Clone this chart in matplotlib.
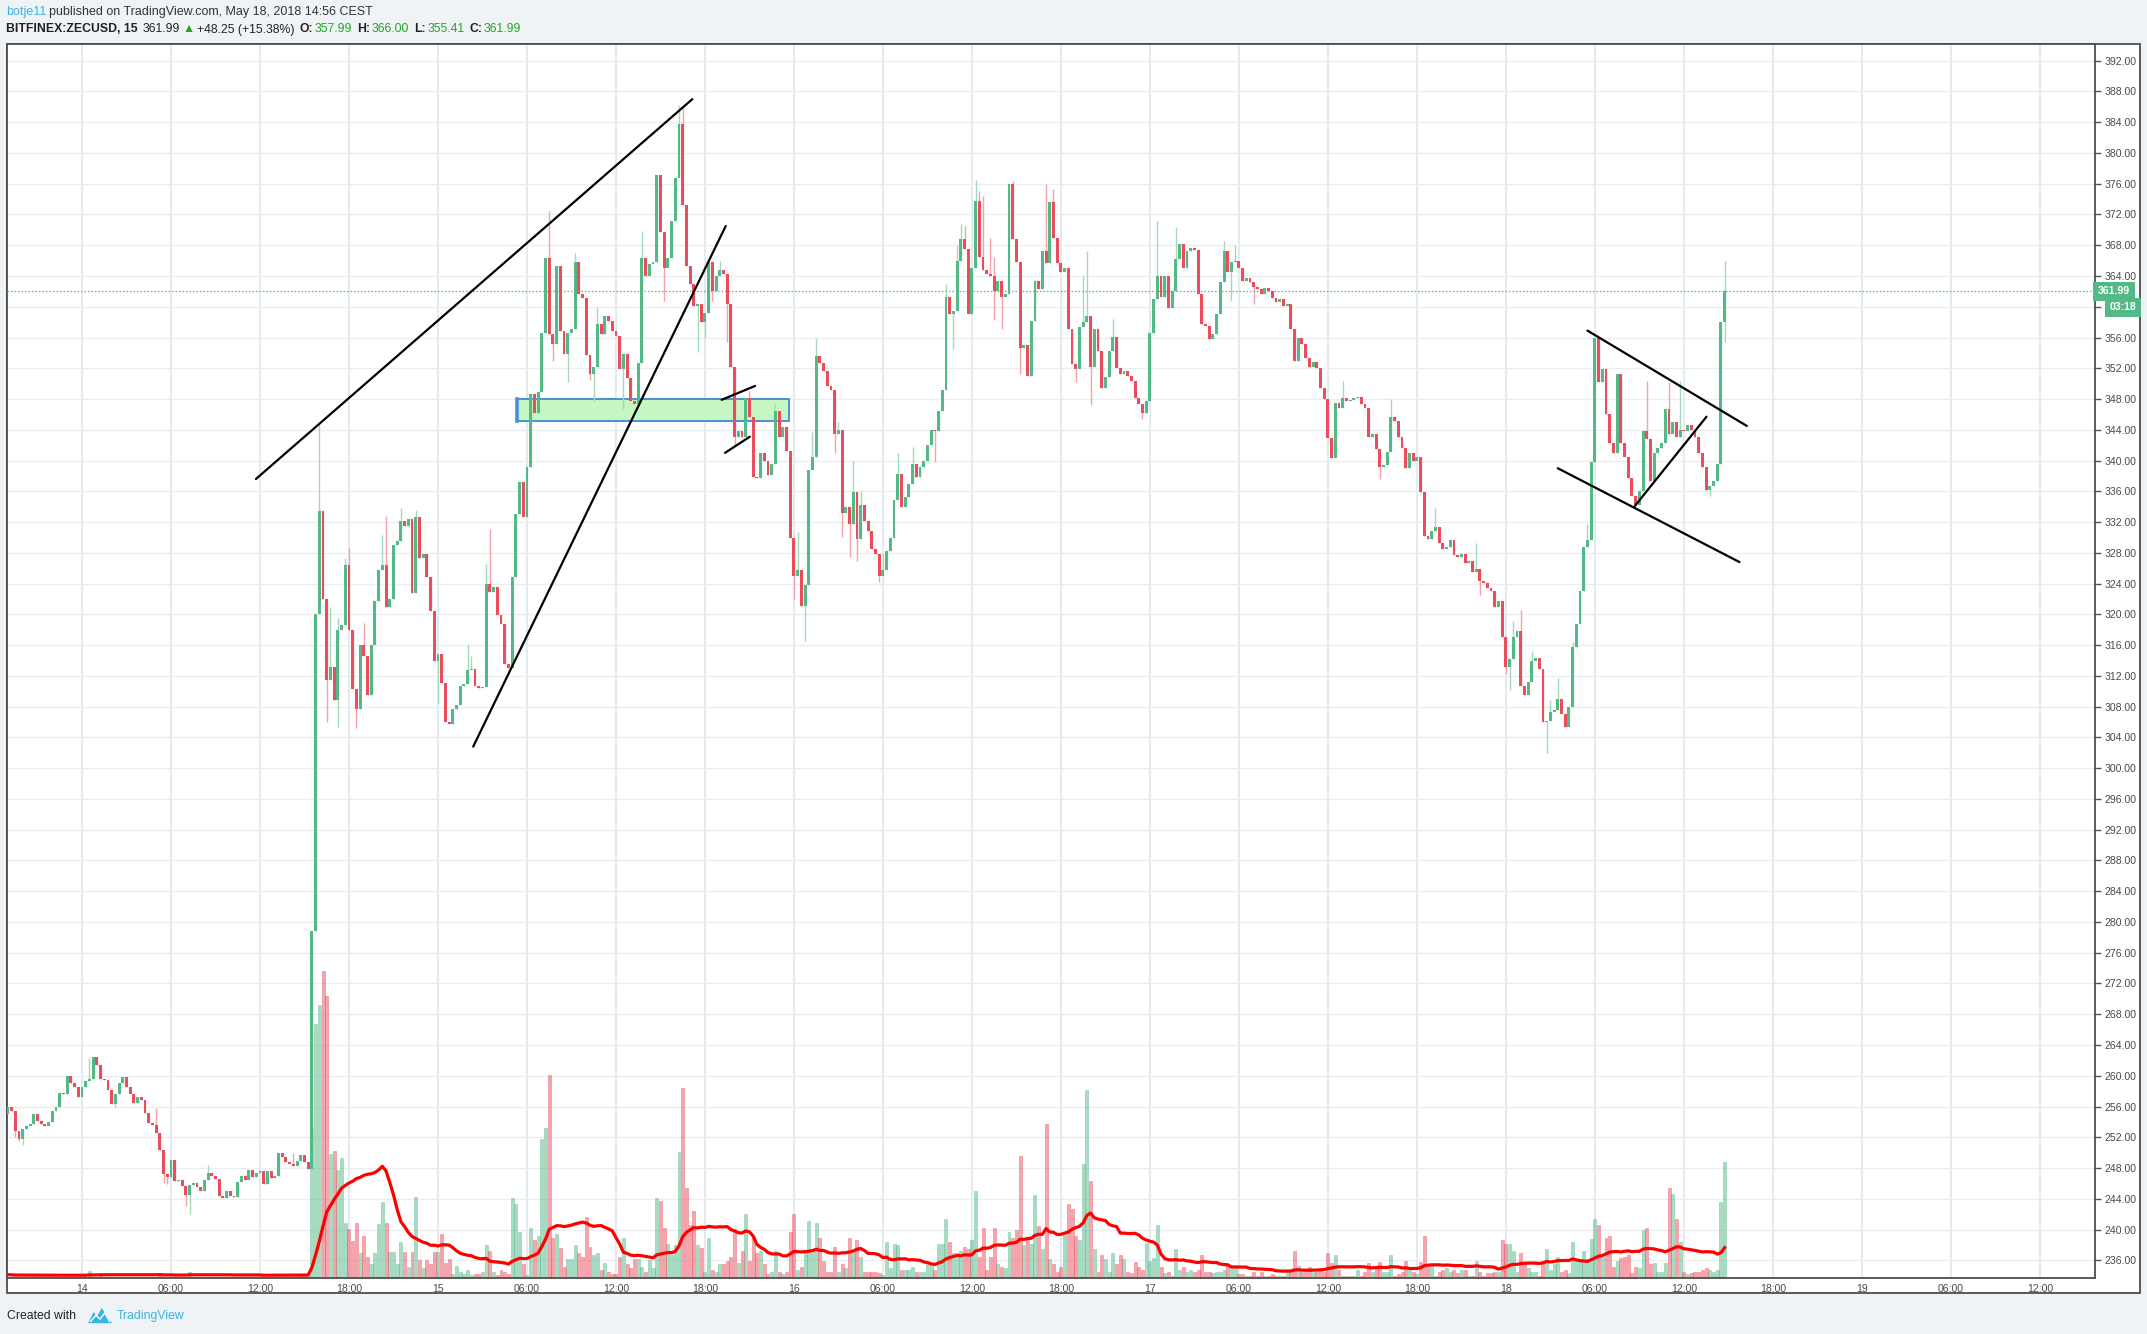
import numpy as np
import pandas as pd
import matplotlib
matplotlib.use("Agg")
import matplotlib.pyplot as plt
from matplotlib.patches import Rectangle, Polygon
from matplotlib.transforms import blended_transform_factory, offset_copy

plt.rcParams['font.family'] = ['Liberation Sans', 'DejaVu Sans']

# ---------------- data (15 min candles, index 0 = May 14 00:00) ----------------
first_index = -20
first_open = 255.0

close_part1 = [256.0, 255.4, 252.8, 251.8, 253.1, 253.5, 253.7, 255.0, 254.1, 253.7,
               253.5, 254.0, 255.4, 255.9, 257.8, 257.6, 260.0, 259.0, 258.6, 257.3,
               258.6, 259.3, 259.6, 262.5, 261.4, 259.6, 259.4, 258.2, 256.3, 257.6,
               259.0, 259.9, 258.6, 257.6, 256.4, 257.3, 256.9, 255.2, 253.8, 253.6,
               252.6, 250.3, 247.2, 246.8, 249.1, 246.3, 246.5, 245.6, 244.5, 245.8,
               246.0, 245.5, 245.0, 246.4, 247.4, 247.0, 246.6, 244.4, 244.1, 245.0,
               244.4, 244.2, 246.2, 247.0, 246.4, 247.8, 246.8, 247.4, 247.6, 245.9,
               247.6, 246.7, 247.0, 249.9, 249.4, 248.8, 248.5, 248.2, 248.9, 249.7,
               248.8, 247.9, 278.8, 320.0, 333.4, 322.0, 311.5, 313.2, 308.9, 318.0,
               318.6, 326.4, 318.0, 310.3, 307.7, 316.0, 314.6, 309.5, 316.0, 321.7,
               325.8, 326.4, 321.0, 322.0, 329.0, 329.6, 332.2, 331.5, 332.4, 322.8,
               332.6, 327.3, 327.8, 324.9, 320.5, 314.0, 314.8, 311.1]
close_part2 = [306.0, 305.8, 307.7, 308.2, 310.7, 311.0, 312.7, 312.9, 310.7, 310.4,
               310.6, 324.0, 322.9, 323.5, 319.9, 318.8, 313.5, 313.0, 324.8, 333.1,
               337.2, 332.7, 339.1, 348.7, 346.2, 348.9, 356.6, 366.3, 356.4, 355.2,
               365.3, 356.8, 353.9, 356.6, 357.1, 365.8, 361.6, 361.2, 353.7, 351.2,
               352.2, 357.8, 356.4, 358.8, 358.2, 356.8, 356.2, 351.9, 353.9, 350.7,
               347.7, 347.3, 352.7, 366.3, 364.0, 365.5, 365.8, 377.1, 369.7, 365.0,
               366.3, 371.1, 376.7, 383.8, 373.2, 365.3, 362.9, 360.1, 360.3, 358.0,
               359.2, 365.8]
close_part3 = [362.0, 364.0, 364.8, 364.2, 360.4, 352.2, 343.1, 343.8, 343.1, 348.2,
               345.6, 337.9, 337.7, 341.0, 340.0, 338.1, 339.5, 346.4, 343.0, 344.3,
               341.3, 329.9, 325.0, 325.8, 321.1, 323.8, 338.8, 340.5, 353.6, 352.7,
               351.7, 349.7, 349.2, 343.5, 344.0, 333.2, 333.9, 331.7, 335.9, 329.8,
               334.2, 332.1, 330.8, 328.5, 327.8, 325.0, 325.8, 328.3, 329.9, 334.9,
               338.2, 333.9, 335.3, 336.9, 339.5, 337.9, 339.2, 340.0, 342.0, 344.0,
               343.9, 346.4, 349.2, 361.3, 359.1, 359.4, 366.0, 368.8, 367.5, 359.1,
               365.0]
close_part4 = [373.8, 366.5, 364.8, 364.3, 364.0, 362.0, 363.4, 361.3, 361.6, 375.9,
               368.8, 365.8, 354.6, 355.0, 351.0, 358.1, 363.3, 362.3, 367.3, 365.7,
               373.6, 369.0, 365.7, 364.5, 365.0, 357.1, 352.5, 351.9, 357.4, 358.0,
               358.8, 352.2, 357.1, 354.3, 349.4, 350.9, 354.3, 356.1, 352.0, 351.2,
               351.6, 351.0, 350.4, 348.2, 347.4, 346.2, 347.7, 356.6, 361.0, 364.0,
               361.3, 364.0, 359.9, 362.0, 366.2, 368.2, 365.0, 367.3, 367.6, 367.4,
               361.7, 357.8, 357.5, 355.8, 356.4, 359.1, 363.2, 367.3, 364.5, 365.8]
close_part5 = [366.0, 365.0, 363.3, 363.8, 363.2, 362.6, 362.3, 361.7, 362.4, 362.0,
               361.2, 360.6, 361.0, 360.1, 360.3, 357.1, 352.9, 355.9, 355.2, 353.4,
               352.2, 352.8, 352.1, 349.4, 348.0, 342.9, 340.3, 347.5, 346.9, 348.2,
               347.8, 347.9, 348.1, 348.3, 347.4, 346.8, 343.0, 343.5, 341.5, 339.1,
               339.4, 341.1, 345.6, 345.2, 343.0, 341.6, 339.0, 341.0, 340.0, 340.5,
               335.9, 330.2, 329.8, 330.9, 331.4, 329.3, 328.5, 328.8, 329.7, 327.7,
               327.4, 327.8, 326.7, 326.9, 325.5, 325.9, 324.3, 324.1, 323.4, 323.0]
close_part6 = [321.0, 321.8, 317.1, 313.2, 314.2, 317.1, 317.8, 310.7, 309.5, 311.2,
               313.9, 314.3, 312.9, 306.0, 306.1, 307.3, 307.5, 309.0, 307.1, 305.3,
               308.0, 315.8, 318.8, 323.0, 328.7, 329.7, 339.8, 355.9, 350.2, 351.9,
               346.0, 342.3, 341.0, 351.2, 342.3, 340.5, 337.7, 335.4, 334.2, 336.0,
               343.8, 342.8, 337.4, 341.0, 341.6, 342.3, 346.7, 343.5, 345.0, 343.1,
               344.0, 343.8, 344.6, 344.0, 343.1, 341.0, 339.1, 336.2, 336.7, 337.4,
               339.5, 357.99, 361.99]

# wick extremes that reach beyond the body (candle index -> price)
upper_wicks = {2: 262.3, 20: 255.8, 34: 248.4, 57: 250.0, 64: 344.7, 67: 320.9, 69: 319.5,
               71: 327.3, 72: 328.6, 76: 318.9, 81: 330.3, 82: 332.8, 86: 333.8, 90: 333.6,
               104: 316.2, 105: 314.6, 109: 326.5, 110: 331.1, 126: 372.4, 133: 367.0,
               139: 360.0, 151: 369.9, 161: 386.2, 162: 385.9,
               172: 366.0, 180: 349.0, 187: 347.5, 193: 330.7, 197: 343.7, 198: 356.0,
               204: 345.0, 208: 340.0, 210: 336.0, 216: 328.0, 220: 341.0, 224: 341.7,
               233: 363.0, 236: 368.0, 237: 370.7, 238: 370.5,
               241: 376.5, 242: 375.0, 243: 374.4, 245: 369.0, 246: 366.5, 251: 376.4,
               260: 375.9, 262: 375.3, 270: 364.0, 271: 367.2, 278: 358.4, 290: 371.1,
               295: 370.4, 308: 368.5, 311: 368.0, 340: 350.4, 353: 348.0, 365: 333.8,
               376: 329.3, 386: 319.2, 388: 320.6, 391: 315.2, 396: 308.8, 398: 311.7,
               402: 316.4, 406: 331.8, 409: 356.0, 422: 350.4, 428: 350.2, 431: 350.4,
               443: 366.0}
lower_wicks = {-18: 252.0, -17: 251.5, -16: 251.0, 9: 256.0, 22: 246.0, 23: 245.9, 28: 243.0,
               29: 242.0, 66: 306.0, 69: 305.3, 74: 305.2, 96: 308.5, 127: 352.9, 131: 350.2,
               137: 350.5, 138: 347.7, 146: 346.7, 157: 360.8, 166: 354.1, 168: 355.9,
               170: 360.8, 174: 355.4, 176: 341.9, 192: 322.0, 195: 316.6, 203: 341.0,
               205: 330.0, 207: 327.5, 209: 327.0, 215: 324.2, 230: 339.8, 235: 354.5,
               246: 358.3, 248: 357.1, 253: 351.2, 268: 350.2, 272: 347.2, 286: 345.4,
               310: 360.8, 316: 360.4, 350: 337.6, 377: 322.5, 384: 312.2, 385: 310.2,
               395: 302.0, 439: 335.4, 443: 355.41}

# volume, in pixels of bar height on the original chart
vol_part1 = [1.5, 1, 0.8, 1, 1.2, 0.6, 0.8, 1, 0.7, 1, 0.6, 0.8, 1.2, 0.9, 0.7, 1, 0.8, 1.1, 0.6, 0.9,
             1.2, 1.5, 7, 1, 0.8, 4, 1.2, 0.9, 1, 0.7, 0.8, 1, 1.3, 0.9, 0.6, 1, 0.8, 0.7, 1.1, 0.9,
             1.2, 4, 1, 0.8, 0.9, 1.1, 0.7, 0.9, 1.3, 6, 1, 0.8, 0.7, 1.2, 0.9, 0.6, 1, 0.8, 1.1, 0.7,
             0.9, 1, 0.8, 1.3, 0.7, 1, 0.9, 1.2, 0.8, 1, 1.1, 0.7, 0.9, 1.5, 1, 0.8, 1.2, 0.9, 1.4, 1.6,
             1.8, 2.5,
             150, 254, 273, 307, 282, 124, 127, 108, 120, 55, 49, 37, 55, 25, 42, 21, 14, 25, 54, 76,
             55, 26, 26, 14, 36, 26, 11, 26, 81, 18, 10, 18, 14, 26, 26, 44]
vol_part2 = [15, 19, 4, 12, 6, 4, 8, 3, 4, 4, 6, 33, 27, 6, 3, 8, 6, 4, 80, 74,
             46, 14, 3, 50, 38, 42, 139, 150, 203, 40, 44, 30, 11, 19, 19, 33, 25, 21, 61, 31,
             23, 25, 8, 15, 6, 4, 4, 21, 40, 14, 10, 19, 19, 11, 6, 18, 10, 80, 77, 50,
             34, 23, 33, 126, 190, 90, 53, 67, 33, 30, 6, 40]
vol_part3 = [8, 6, 14, 14, 17, 21, 49, 15, 27, 64, 17, 42, 25, 27, 14, 4, 6, 27, 6, 4,
             6, 46, 64, 8, 11, 27, 57, 29, 55, 40, 17, 6, 6, 31, 6, 14, 10, 40, 27, 38,
             21, 6, 6, 6, 6, 5, 3, 36, 10, 34, 33, 8, 8, 8, 11, 6, 6, 6, 14, 14,
             8, 34, 34, 59, 36, 25, 25, 27, 31, 29, 38]
vol_part4 = [87, 21, 50, 8, 21, 50, 14, 11, 10, 46, 40, 48, 122, 33, 39, 34, 83, 52, 29, 154,
             19, 14, 6, 11, 44, 74, 69, 42, 38, 114, 188, 97, 29, 6, 23, 19, 6, 25, 14, 23,
             19, 6, 5, 16, 11, 8, 35, 17, 20, 53, 11, 5, 6, 2, 29, 8, 11, 6, 8, 6,
             8, 23, 6, 6, 5, 6, 6, 8, 14, 10]
vol_part5 = [11, 4, 4, 2, 2, 6, 2, 6, 2, 2, 4, 2, 2, 2, 6, 8, 27, 12, 6, 8,
             11, 6, 6, 8, 6, 25, 15, 23, 8, 2, 2, 2, 2, 8, 2, 6, 15, 6, 10, 16,
             6, 6, 23, 2, 4, 6, 17, 11, 6, 4, 16, 42, 14, 14, 2, 6, 8, 10, 6, 8,
             5, 8, 8, 2, 2, 17, 6, 2, 5, 5]
vol_part6 = [6, 6, 38, 34, 34, 27, 6, 25, 15, 10, 6, 6, 2, 14, 29, 8, 14, 21, 6, 8,
             5, 36, 19, 19, 27, 19, 39, 59, 53, 21, 40, 42, 11, 17, 20, 21, 23, 5, 11, 10,
             48, 50, 14, 15, 6, 6, 15, 90, 84, 59, 36, 6, 4, 5, 6, 6, 8, 10, 8, 6,
             8, 76, 116]

day_labels = ['14', '15', '16', '17', '18', '19']
hour_labels = ['06:00', '12:00', '18:00']
price_ticks = np.arange(236, 393, 4)

# drawings on the chart: ((index, price), (index, price))
trend_lines = [((46.9, 337.6), (164.6, 387.0)),
               ((105.5, 302.8), (173.6, 370.5)),
               ((172.5, 347.9), (181.5, 349.7)),
               ((173.4, 341.0), (180.1, 343.1)),
               ((406.0, 356.9), (449.0, 344.5)),
               ((398.0, 339.0), (447.0, 326.8)),
               ((418.8, 334.1), (438.1, 345.7))]
zone = (117.4, 190.7, 345.2, 348.0)   # x0, x1, low, high
countdown = '03:18'

# ---------------- build series ----------------
closes = np.array(close_part1 + close_part2 + close_part3 + close_part4 + close_part5 + close_part6)
volume = np.array(vol_part1 + vol_part2 + vol_part3 + vol_part4 + vol_part5 + vol_part6, dtype=float)
m = min(len(closes), len(volume))
closes, volume = closes[:m], volume[:m]
idx = np.arange(first_index, first_index + m)
opens = np.concatenate([[first_open], closes[:-1]])
highs = np.maximum(opens, closes)
lows = np.minimum(opens, closes)
for k, v in upper_wicks.items():
    if first_index <= k < first_index + m:
        highs[k - first_index] = max(highs[k - first_index], v)
for k, v in lower_wicks.items():
    if first_index <= k < first_index + m:
        lows[k - first_index] = min(lows[k - first_index], v)
up = closes >= opens
vol_ma = pd.Series(volume).rolling(20, min_periods=1).mean().values

GREEN = '#53b987'
RED = '#eb4d5c'
GREEN_WICK = '#a3d9bd'
RED_WICK = '#f4a3aa'
TXT_GREEN = '#21a621'

# ---------------- figure layout (pixels of the 2147x1334 picture) ----------------
W, H = 2147, 1334
fig = plt.figure(figsize=(W / 100, H / 100), dpi=100, facecolor='#f0f3f6')
L, R, T, B = 6.8, 2095, 44, 1278
fig.add_artist(Rectangle((L / W, 1 - 1293 / H), (2140 - L) / W, (1293 - T) / H,
                         transform=fig.transFigure, fc='white', ec='#4d4d4d', lw=1.3, zorder=-1))
ax = fig.add_axes([L / W, 1 - B / H, (R - L) / W, (B - T) / H])
ax.set_facecolor('white')

x0_px, step_px = 82, 3.708
ax.set_xlim((L - x0_px) / step_px, (R - x0_px) / step_px)
ax.set_ylim(233.7, 394.17)

# volume (bottom overlay) + moving average
vtrans = blended_transform_factory(ax.transData, ax.transAxes)
vh = B - T
ax.bar(idx[up], volume[up] / vh, width=0.8, bottom=0, transform=vtrans,
       color=GREEN, alpha=0.5, edgecolor=GREEN, linewidth=0.5, zorder=1)
ax.bar(idx[~up], volume[~up] / vh, width=0.8, bottom=0, transform=vtrans,
       color=RED, alpha=0.5, edgecolor=RED, linewidth=0.5, zorder=1)
ax.plot(idx, vol_ma / vh + 0.0015, transform=vtrans, color='#ff0000', lw=2.3, zorder=2)

# zone
ax.add_patch(Rectangle((zone[0], zone[2]), zone[1] - zone[0], zone[3] - zone[2],
                       fc='#c6f6c2', ec='#4a8fd8', lw=1.4, zorder=2.5))
ax.plot([zone[0], zone[0]], [zone[2], zone[3]], color='#4a8fd8', lw=2.6, zorder=2.6)

# candles
ax.vlines(idx[up], lows[up], highs[up], color=GREEN_WICK, lw=1.0, zorder=3)
ax.vlines(idx[~up], lows[~up], highs[~up], color=RED_WICK, lw=1.0, zorder=3)
body = np.maximum(np.abs(closes - opens), 0.13)
ax.bar(idx[up], body[up], bottom=np.minimum(opens, closes)[up], width=0.78,
       color=GREEN, linewidth=0, zorder=4)
ax.bar(idx[~up], body[~up], bottom=np.minimum(opens, closes)[~up], width=0.78,
       color=RED, linewidth=0, zorder=4)

# last price line
last = closes[-1]
ax.axhline(last, color=GREEN, lw=0.9, ls=(0, (1.2, 1.6)), zorder=3.5)

# drawings
for (xa, ya), (xb, yb) in trend_lines:
    ax.plot([xa, xb], [ya, yb], color='black', lw=1.6, zorder=6, solid_capstyle='round')

# axes styling
for s in ax.spines.values():
    s.set_color('#4d4d4d')
    s.set_linewidth(1.3)
ax.yaxis.tick_right()
ax.set_yticks(price_ticks)
ax.set_yticklabels([f'{v:.2f}' for v in price_ticks])
ax.tick_params(axis='y', length=4, width=1, color='#555555', pad=3, labelsize=7.6,
               labelcolor='#4a4a4a')
xt = np.arange(0, 529, 24)
xl = [day_labels[i // 96] if i % 96 == 0 else hour_labels[(i % 96) // 24 - 1] for i in xt]
ax.set_xticks(xt)
ax.set_xticklabels(xl)
ax.tick_params(axis='x', length=0, pad=4, labelsize=7.6, labelcolor='#4a4a4a')
ax.xaxis.grid(True, color='#dde5ec', lw=1.1)
ax.yaxis.grid(True, color='#e9eef2', lw=0.9)
ax.set_axisbelow(True)

# price labels on the scale
ptrans = blended_transform_factory(ax.transAxes, ax.transData)
ax.text(1.0015, last, f'{last:.2f}', transform=ptrans, ha='left', va='center', fontsize=7.6,
        fontweight='bold', color='white', zorder=10, clip_on=False,
        bbox=dict(boxstyle='square,pad=0.45', fc=GREEN, ec='none'))
ax.text(1.0198, last, countdown, transform=offset_copy(ptrans, fig=fig, y=-16, units='dots'),
        ha='right', va='center', fontsize=7.6, fontweight='bold', color='white', zorder=10,
        clip_on=False, bbox=dict(boxstyle='square,pad=0.4', fc=GREEN, ec='none'))

# ---------------- header ----------------
renderer = fig.canvas.get_renderer()


def text_row(pieces, x, y, size):
    for s, color, weight, gap in pieces:
        t = fig.text(x / W, 1 - y / H, s, color=color, fontweight=weight, fontsize=size,
                     va='center', ha='left')
        x += t.get_window_extent(renderer).width + gap


text_row([('botje11', '#3bb3e4', 'normal', 3),
          ('published on TradingView.com, May 18, 2018 14:56 CEST', '#333333', 'normal', 0)],
         6, 12, 9.0)
text_row([('BITFINEX:ZECUSD, 15', '#222222', 'bold', 5),
          ('361.99', '#222222', 'normal', 3),
          ('\u25b2', TXT_GREEN, 'normal', 2),
          ('+48.25 (+15.38%)', '#222222', 'normal', 5),
          ('O:', '#222222', 'bold', 1.5), ('357.99', TXT_GREEN, 'normal', 5),
          ('H:', '#222222', 'bold', 1.5), ('366.00', TXT_GREEN, 'normal', 5),
          ('L:', '#222222', 'bold', 1.5), ('355.41', TXT_GREEN, 'normal', 5),
          ('C:', '#222222', 'bold', 1.5), ('361.99', TXT_GREEN, 'normal', 0)],
         6, 29.5, 8.8)

# ---------------- footer ----------------
fig.text(7 / W, 1 - 1316 / H, 'Created with', fontsize=8.8, color='#222222', va='center')
fig.text(117 / W, 1 - 1316 / H, 'TradingView', fontsize=8.8, color='#3bb3e4', va='center')
lax = fig.add_axes([88 / W, 1 - 1324 / H, 24 / W, 16 / H])
lax.set_xlim(0, 1.5)
lax.set_ylim(0, 1)
lax.axis('off')
lax.add_patch(Polygon([(0, 0.05), (0.35, 0.75), (0.55, 0.45), (0.85, 1.0), (1.5, 0.05)],
                      closed=True, fc='#3bb3e4', ec='none'))
lax.plot([0.15, 0.5, 0.75, 1.05, 1.35], [0.15, 0.55, 0.3, 0.7, 0.15], color='white', lw=1.0)

fig.savefig('out.png', dpi=100, facecolor=fig.get_facecolor())
